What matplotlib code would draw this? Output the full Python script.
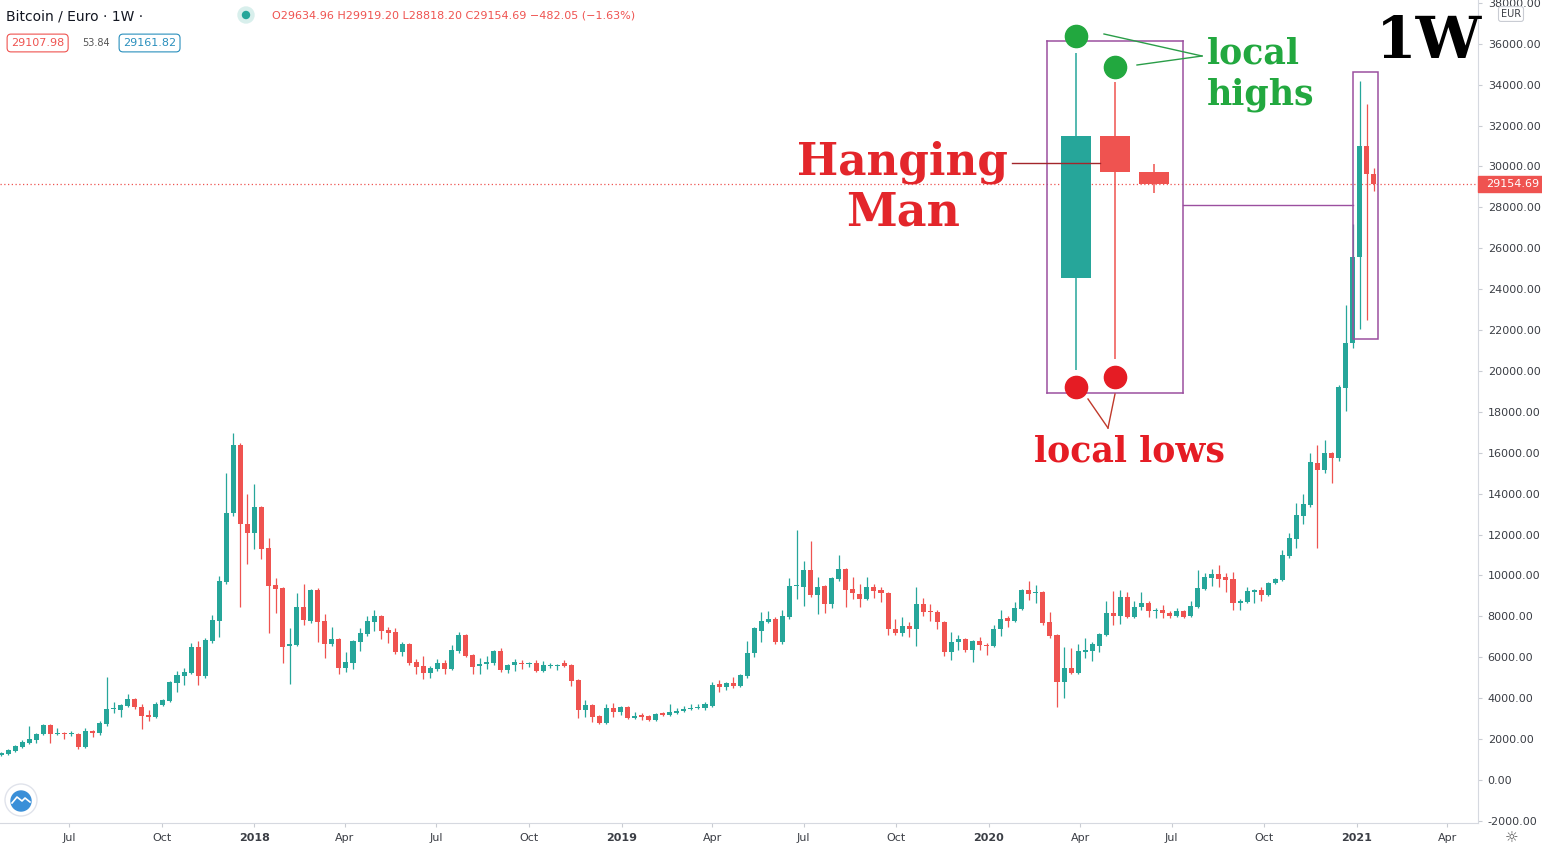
import numpy as np
import pandas as pd
import matplotlib
matplotlib.use("Agg")
import matplotlib.pyplot as plt
import matplotlib.dates as mdates
from matplotlib.patches import Rectangle, Ellipse
from matplotlib.lines import Line2D
from matplotlib import transforms

# weekly BTC/EUR candles, first week starts 2017-04-24
first_week = "2017-04-24"

opens = [1200, 1270, 1420, 1610, 1810, 1960, 2250, 2690, 2250, 2300,
         2250, 2250, 1610, 2400, 2300, 2740, 3470, 3420, 3620, 3960,
         3570, 3180, 3080, 3670, 3860, 4740, 5090, 5230, 6500, 5090,
         6800, 7780, 9680, 13060, 16380, 12520, 12080, 13350, 11350, 9540,
         9390, 6550, 6600, 8460, 7780, 9290, 7780, 6650, 6900, 5480,
         5720, 6750, 7140, 7730, 8020, 7340, 7240, 6260, 6650, 5770,
         5570, 5230, 5430, 5720, 5430, 6310, 7090, 6110, 5570, 5670,
         5720, 6310, 5380, 5620, 5720, 5670, 5720, 5330, 5570, 5570,
         5720, 5620, 4890, 3420, 3670, 3130, 2790, 3520, 3330, 3570,
         3030, 3130, 3130, 2930, 3230, 3180, 3290, 3380, 3450, 3530,
         3500, 3620, 4690, 4550, 4740, 4600, 5090, 6210, 7290, 7730,
         7870, 6750, 7970, 9490, 9440, 10270, 9050, 9490, 8610, 9830,
         10320, 9340, 9100, 8850, 9440, 9290, 9140, 7380, 7190, 7530,
         7380, 8610, 8260, 8220, 7730, 6260, 6750, 6900, 6360, 6800,
         6600, 6550, 7380, 7920, 7780, 8360, 9290, 9140, 9190, 7730,
         7090, 4790, 5480, 5230, 6260, 6310, 6550, 7090, 8170, 8020,
         8950, 7970, 8460, 8660, 8260, 8310, 8170, 8020, 8260, 8020,
         8460, 9340, 9880, 10070, 9930, 9830, 8660, 8700, 9190, 9290,
         9050, 9630, 9780, 10950, 11780, 12900, 13450, 15500, 15160, 15990,
         15750, 19170, 21370, 25575, 31000, 29634.96]

highs = [1350, 1520, 1720, 1950, 2640, 2300, 2740, 2740, 2540, 2350,
         2400, 2300, 2540, 2440, 2890, 5040, 3810, 3720, 4200, 4010,
         3720, 3420, 3810, 3960, 4850, 5330, 5480, 6700, 6800, 6950,
         8070, 9980, 15010, 16970, 16500, 13990, 14470, 13400, 11830, 9880,
         9440, 7430, 9140, 9580, 9340, 9390, 8120, 7480, 6950, 6260,
         6850, 7430, 8020, 8310, 8060, 7480, 7430, 6750, 6700, 5920,
         6060, 5570, 5920, 5870, 6600, 7240, 7140, 6160, 5970, 6060,
         6360, 6460, 5670, 5920, 5870, 5770, 5870, 5820, 5720, 5670,
         5870, 5670, 4940, 3910, 3720, 3180, 3720, 3770, 3620, 3620,
         3330, 3280, 3180, 3280, 3330, 3720, 3520, 3620, 3720, 3720,
         3810, 4790, 4890, 4800, 5040, 5200, 6800, 7480, 8220, 8260,
         7970, 8310, 9880, 12230, 10710, 11690, 9940, 9540, 9930, 11000,
         10370, 9930, 9580, 9930, 9580, 9440, 9200, 7870, 7970, 7730,
         9440, 8900, 8610, 8300, 7780, 7240, 7100, 6950, 6850, 7000,
         6700, 7580, 8310, 8020, 8700, 9340, 9730, 9530, 9240, 8220,
         7140, 6500, 6450, 6650, 6950, 6750, 7200, 8750, 9240, 9290,
         9190, 8750, 9190, 8750, 8410, 8560, 8260, 8410, 8310, 8750,
         10270, 10120, 10300, 10510, 10120, 10170, 8850, 9440, 9340, 9440,
         9680, 9880, 11250, 12080, 13550, 13990, 16000, 16380, 16630, 16050,
         19300, 23230, 27190, 34180, 33060, 29919.20]

lows = [1150, 1230, 1380, 1560, 1760, 1810, 2200, 1810, 2200, 2000,
        2150, 1515, 1560, 2100, 2200, 2650, 3280, 3080, 3570, 3470,
        2490, 2890, 3030, 3620, 3800, 4300, 4650, 5180, 4650, 5000,
        6700, 6990, 9600, 12900, 8460, 10560, 11300, 10800, 7190, 8170,
        5720, 4690, 6550, 7580, 7680, 6750, 5970, 6550, 5180, 5280,
        5430, 6310, 7050, 7290, 6900, 6700, 6160, 6060, 5620, 5180,
        4940, 4990, 5330, 5180, 5380, 6210, 6010, 5180, 5180, 5430,
        5620, 5280, 5230, 5330, 5430, 5530, 5280, 5280, 5480, 5380,
        5530, 4600, 3030, 3080, 2840, 2740, 2740, 3080, 3180, 2980,
        2980, 2930, 2880, 2880, 3130, 3130, 3230, 3330, 3400, 3480,
        3420, 3570, 4300, 4400, 4500, 4550, 4990, 6010, 6750, 7680,
        6650, 6650, 7880, 8850, 8510, 8950, 8120, 8170, 8410, 9730,
        8460, 8850, 8440, 8800, 8900, 8700, 7090, 7100, 7040, 6990,
        6550, 8020, 7780, 7380, 6060, 5870, 6360, 6260, 5770, 6360,
        6110, 6500, 7040, 7480, 7730, 8310, 8800, 8660, 7580, 6950,
        3570, 4010, 5180, 5180, 5970, 5820, 6260, 7040, 7580, 7630,
        7920, 7920, 8310, 7970, 7920, 7920, 7920, 7970, 7920, 7970,
        8410, 9290, 9490, 9440, 9200, 8310, 8310, 8650, 8650, 8750,
        9000, 9580, 9730, 10850, 11350, 12520, 13350, 11345, 15000, 14520,
        15600, 18040, 21125, 22050, 22500, 28818.20]

closes = [1300, 1470, 1660, 1860, 2000, 2250, 2690, 2250, 2300, 2250,
          2280, 1610, 2400, 2300, 2790, 3470, 3520, 3670, 3960, 3550,
          3130, 3100, 3720, 3910, 4790, 5130, 5280, 6500, 5090, 6850,
          7820, 9730, 13060, 16380, 12520, 12080, 13350, 11300, 9490, 9340,
          6500, 6650, 8460, 7820, 9290, 7730, 6650, 6900, 5480, 5770,
          6800, 7190, 7780, 8020, 7290, 7190, 6260, 6650, 5720, 5530,
          5230, 5480, 5720, 5430, 6360, 7090, 6060, 5530, 5670, 5770,
          6310, 5380, 5620, 5770, 5670, 5720, 5330, 5620, 5620, 5620,
          5570, 4840, 3420, 3670, 3080, 2790, 3520, 3330, 3570, 3030,
          3130, 3100, 2930, 3230, 3200, 3340, 3390, 3470, 3540, 3550,
          3720, 4650, 4550, 4740, 4600, 5130, 6210, 7430, 7780, 7870,
          6750, 8020, 9490, 9500, 10270, 9050, 9440, 8610, 9880, 10320,
          9290, 9140, 8850, 9440, 9240, 9140, 7380, 7190, 7530, 7380,
          8610, 8220, 8220, 7730, 6260, 6750, 6900, 6360, 6800, 6600,
          6550, 7380, 7870, 7780, 8410, 9290, 9100, 9190, 7680, 7040,
          4790, 5480, 5230, 6310, 6360, 6650, 7140, 8170, 8020, 8950,
          7970, 8460, 8660, 8260, 8290, 8170, 8020, 8260, 7970, 8510,
          9390, 9930, 10070, 9830, 9780, 8660, 8750, 9240, 9290, 9050,
          9630, 9830, 11000, 11830, 12960, 13500, 15550, 15160, 15990, 15750,
          19220, 21370, 25575, 31000, 29630, 29154.69]

y_ticks = np.arange(-2000, 38001, 2000)
header = "Bitcoin / Euro \u00b7 1W \u00b7"
ohlc_text = "O29634.96 H29919.20 L28818.20 C29154.69 \u2212482.05 (\u22121.63%)"
bid, spread, ask = "29107.98", "53.84", "29161.82"

GREEN = "#26a69a"
RED = "#ef5350"
PURPLE = "#9b4f9f"
W, H = 1542, 849


def fx(px):
    return px / W


def fy(py):
    return 1 - py / H


def draw_candles(ax, x, o, h, l, c, width, wick_lw, min_body):
    colors = np.where(c >= o, GREEN, RED)
    ax.vlines(x, l, h, colors=colors, linewidth=wick_lw, zorder=2)
    ax.bar(x, np.maximum(np.abs(c - o), min_body), width, bottom=np.minimum(o, c),
           color=colors, linewidth=0, zorder=3)


def dot(x, y, r, **kw):
    fig.add_artist(Ellipse((fx(x), fy(y)), 2 * r / W, 2 * r / H, transform=fig.transFigure, **kw))


o = np.array(opens, dtype=float)
h = np.array(highs, dtype=float)
l = np.array(lows, dtype=float)
c = np.array(closes, dtype=float)
weeks = pd.date_range(first_week, periods=len(o), freq="7D")
xd = mdates.date2num(weeks)

fig = plt.figure(figsize=(W / 100, H / 100), dpi=100)
ax = fig.add_axes([0, fy(823), fx(1478), 823 / H])
draw_candles(ax, xd, o, h, l, c, 5.0, 0.9, 60)

ax.set_xlim(xd[0] - 1.0, xd[0] + 1468.6)
ax.set_ylim(-2103, 38140)
for s in ["left", "top"]:
    ax.spines[s].set_visible(False)
for s in ["right", "bottom"]:
    ax.spines[s].set_color("#d6d9e0")

ax.yaxis.tick_right()
ax.set_yticks(y_ticks, ["%.2f" % v for v in y_ticks])
ax.tick_params(axis="y", labelsize=8, colors="#c9ccd3", labelcolor="#3b3e45", length=3, pad=4)

qticks = pd.date_range("2017-07-01", "2021-04-01", freq="QS")
qlabels = [str(d.year) if d.month == 1 else d.strftime("%b") for d in qticks]
ax.set_xticks(mdates.date2num(qticks), qlabels)
ax.tick_params(axis="x", labelsize=8, colors="#c9ccd3", labelcolor="#3b3e45", length=3, pad=4)
for t in ax.get_xticklabels():
    if t.get_text().isdigit():
        t.set_fontweight("bold")

# last price line + label
last = c[-1]
ax.axhline(last, color=RED, lw=0.9, ls=(0, (1, 2)), zorder=1)
blend = transforms.blended_transform_factory(fig.transFigure, ax.transData)
ax.add_patch(Rectangle((fx(1478), last - 380), fx(64), 760, transform=blend,
                       color=RED, clip_on=False, zorder=5))
ax.text(fx(1486), last, "%.2f" % last, transform=blend, color="white", fontsize=8,
        va="center", ha="left", zorder=6)

# small box around the last three weeks
bx0 = xd[-3] - 6.6
bx1 = xd[-1] + 4.2
by0 = l[-3:].min() - 500
by1 = h[-3:].max() + 450
ax.add_patch(Rectangle((bx0, by0), bx1 - bx0, by1 - by0, fill=False, ec=PURPLE, lw=1.1, zorder=4))

# magnified view of the last three candles
axi = fig.add_axes([fx(1047), fy(393), fx(136), 352 / H])
axi.set_facecolor("none")
idx = np.arange(len(o))[-3:]
draw_candles(axi, idx, o[-3:], h[-3:], l[-3:], c[-3:], 0.79, 1.1, 60)
axi.set_xlim(192.256, 195.744)
axi.set_ylim(21191, 34626)
axi.set_xticks([])
axi.set_yticks([])
for s in axi.spines.values():
    s.set_color(PURPLE)
    s.set_linewidth(1.1)

for i, dy in zip(idx[:2], [17, 15]):
    tr = transforms.offset_copy(axi.transData, fig=fig, x=0, y=dy, units="dots")
    axi.plot(i, h[i], "o", ms=16, color="#22a83f", transform=tr, clip_on=False, zorder=6)
for i, dy in zip(idx[:2], [17, 18]):
    tr = transforms.offset_copy(axi.transData, fig=fig, x=0, y=-dy, units="dots")
    axi.plot(i, l[i], "o", ms=16, color="#e51c24", transform=tr, clip_on=False, zorder=6)

lines = [
    ([1104, 1202], [34, 56], "#2a9d48"),
    ([1137, 1202], [65, 56], "#2a9d48"),
    ([1088, 1108], [399, 428], "#c0392b"),
    ([1115, 1108], [394, 428], "#c0392b"),
    ([1012, 1100], [163, 163], "#a3262b"),
    ([1183, 1353], [205, 205], PURPLE),
]
for xs, ys, col in lines:
    fig.add_artist(Line2D([fx(v) for v in xs], [fy(v) for v in ys], color=col, lw=1.0))

serif = "DejaVu Serif"
fig.text(fx(1207), fy(63), "local", color="#22a83f", fontsize=25, fontweight="bold", family=serif)
fig.text(fx(1207), fy(104), "highs", color="#22a83f", fontsize=25, fontweight="bold", family=serif)
fig.text(fx(1034), fy(462), "local lows", color="#e51c24", fontsize=25, fontweight="bold", family=serif)
fig.text(fx(902), fy(175), "Hanging", color="#e3262b", fontsize=31.5, fontweight="bold", family=serif, ha="center")
fig.text(fx(903), fy(226), "Man", color="#e3262b", fontsize=33, fontweight="bold", family=serif, ha="center")
fig.text(fx(1429), fy(58), "1W", color="black", fontsize=42, fontweight="bold", family=serif, ha="center")

# header
fig.text(fx(6), fy(16), header, fontsize=10, color="#131722", va="center")
dot(246, 15, 8, color="#d8efec")
dot(246, 15, 3.5, color=GREEN)
fig.text(fx(272), fy(16), ohlc_text, fontsize=8, color=RED, va="center")
fig.text(fx(11), fy(43), bid, fontsize=8, color=RED, va="center",
         bbox=dict(boxstyle="round,pad=0.35", fc="white", ec=RED, lw=0.8))
fig.text(fx(82), fy(43), spread, fontsize=7, color="#555555", va="center")
fig.text(fx(123), fy(43), ask, fontsize=8, color="#2a8fbd", va="center",
         bbox=dict(boxstyle="round,pad=0.35", fc="white", ec="#2a8fbd", lw=0.8))
fig.text(fx(1511), fy(14), "EUR", fontsize=7, color="#3b3e45", va="center", ha="center",
         bbox=dict(boxstyle="round,pad=0.25", fc="white", ec="#c9ccd3", lw=0.8))

# logo and settings icon
dot(21, 800, 16, fc="white", ec="#e0e3eb", lw=1)
dot(21, 801, 10, color="#3a8fd8")
fig.add_artist(Line2D([fx(12), fx(17), fx(22), fx(25), fx(30)], [fy(803), fy(797), fy(801), fy(798), fy(802)],
                      color="white", lw=1.2))
fig.text(fx(1512), fy(838), "\u263c", fontsize=11, color="#555555", ha="center", va="center")

fig.savefig("out.png", dpi=100)
